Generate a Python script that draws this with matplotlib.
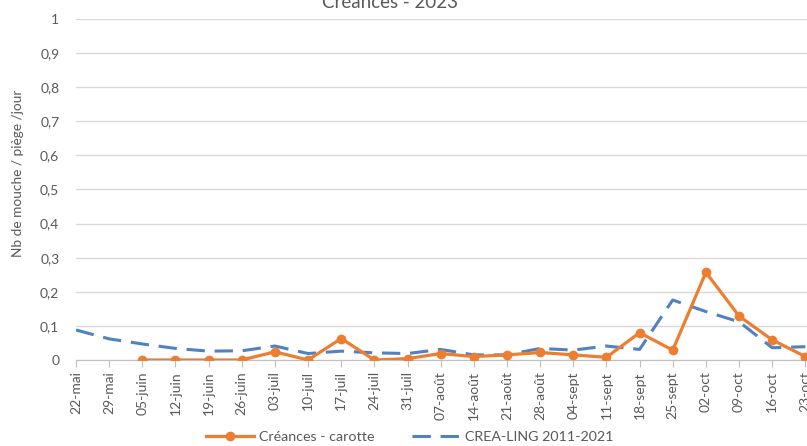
"""Créances 2023 : captures de mouche de la carotte vs moyenne CREA-LING 2011-2021."""
import matplotlib
matplotlib.use("Agg")
import matplotlib.pyplot as plt
import numpy as np
from matplotlib.ticker import FuncFormatter, MultipleLocator

plt.rcParams["font.family"] = ["Lato", "DejaVu Sans"]

DATES = [
    "22-mai", "29-mai", "05-juin", "12-juin", "19-juin", "26-juin",
    "03-juil", "10-juil", "17-juil", "24-juil", "31-juil", "07-août",
    "14-août", "21-août", "28-août", "04-sept", "11-sept", "18-sept",
    "25-sept", "02-oct", "09-oct", "16-oct", "23-oct",
]

# pas de relevé avant le 05-juin
CREANCES_2023 = [
    np.nan, np.nan, 0.0, 0.0, 0.0, 0.0,
    0.024, 0.0, 0.063, 0.0, 0.004, 0.019,
    0.010, 0.015, 0.022, 0.015, 0.008, 0.080,
    0.029, 0.257, 0.129, 0.059, 0.010,
]

CREA_LING = [
    0.088, 0.062, 0.047, 0.034, 0.026, 0.027,
    0.041, 0.019, 0.026, 0.021, 0.019, 0.031,
    0.015, 0.015, 0.034, 0.029, 0.041, 0.031,
    0.176, 0.142, 0.112, 0.036, 0.039,
]

ORANGE = "#ED7D31"
BLUE = "#4f81c4"
GREY_TXT = "#595959"
GRID = "#d9d9d9"

W, H = 807, 446
fig = plt.figure(figsize=(W / 100, H / 100), dpi=100)
ax = fig.add_axes([76 / W, 86 / H, (W - 76) / W, (360 - 19) / H])

x = np.arange(len(DATES))
ax.plot(x, CREA_LING, color=BLUE, linewidth=2.2, dashes=(6, 3.2),
        label="CREA-LING 2011-2021", zorder=2)
ax.plot(x, CREANCES_2023, color=ORANGE, linewidth=2.3, marker="o",
        markersize=6, label="Créances - carotte", zorder=3)

ax.set_xlim(0, 22.05)
ax.set_ylim(0, 1)
ax.yaxis.set_major_locator(MultipleLocator(0.1))
ax.yaxis.set_major_formatter(
    FuncFormatter(lambda v, _: f"{v:.1f}".replace(".", ",").replace(",0", "") if v > 0 else "0")
)
ax.set_xticks(x)
ax.set_xticklabels(DATES, rotation=90)

ax.grid(axis="y", color=GRID, linewidth=1)
ax.set_axisbelow(True)
for side in ("top", "right", "left"):
    ax.spines[side].set_visible(False)
ax.spines["bottom"].set_color("#bfbfbf")
ax.tick_params(axis="y", length=0, pad=12, labelsize=10, labelcolor=GREY_TXT)
ax.tick_params(axis="x", length=5, color="#bfbfbf", pad=3, labelsize=10,
               labelcolor=GREY_TXT)

fig.text(18 / W, 1 - 173 / H, "Nb de mouche / piège /jour", rotation=90,
         ha="center", va="center", fontsize=9.8, color=GREY_TXT)
fig.text(390 / W, 1 - 8 / H, "Créances - 2023", ha="center", va="baseline",
         fontsize=13.5, color=GREY_TXT)

handles, labels = ax.get_legend_handles_labels()
fig.legend(handles[::-1], labels[::-1], loc="center", ncol=2,
           bbox_to_anchor=(410 / W, 1 - 437 / H), frameon=False,
           fontsize=10.3, labelcolor=GREY_TXT, handlelength=3.3,
           columnspacing=2.6, handletextpad=0.4)

fig.savefig("out.png", dpi=100)
